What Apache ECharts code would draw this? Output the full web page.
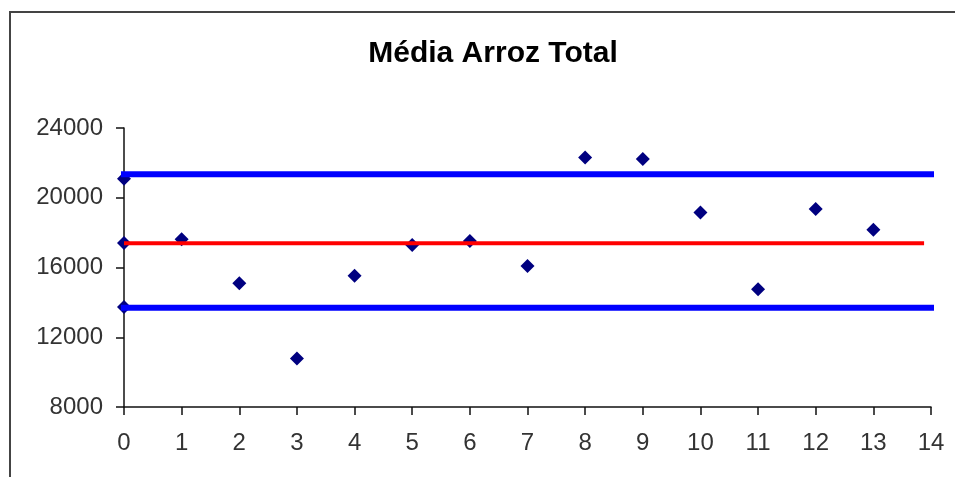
<!DOCTYPE html>
<html>
<head>
<meta charset="utf-8">
<script src="https://cdn.jsdelivr.net/npm/echarts@6/dist/echarts.min.js"></script>
<style>
html,body{margin:0;padding:0;background:#fff;}
#chart{width:955px;height:477px;}
</style>
</head>
<body>
<div id="chart"></div>
<script>
// Data
const titleText = 'Média Arroz Total';
const sampleX = [1, 2, 3, 4, 5, 6, 7, 8, 9, 10, 11, 12, 13];
const sampleY = [17620, 15090, 10780, 15530, 17290, 17520, 16090, 22310, 22220, 19150, 14750, 19360, 18160];
const startMarkersX = [0, 0, 0];
const startMarkersY = [21090, 17400, 13730];
const meanValue = 17390;
const upperLimit = 21350;
const lowerLimit = 13690;
const limitXRange = [0, 14];
const meanXRange = [0, 13.88];
const yTicks = [8000, 12000, 16000, 20000, 24000];
const xTicks = [0, 1, 2, 3, 4, 5, 6, 7, 8, 9, 10, 11, 12, 13, 14];

const points = sampleX.map((x, i) => [x, sampleY[i]]);
const startPoints = startMarkersX.map((x, i) => [x, startMarkersY[i]]);
const hline = (range, v) => range.map(x => [x, v]);

const chart = echarts.init(document.getElementById('chart'), null, {renderer: 'canvas'});
const font = 'Liberation Sans, Arial, sans-serif';
chart.setOption({
  backgroundColor: '#ffffff',
  animation: false,
  title: {
    text: titleText,
    left: 488, top: 34, textAlign: 'center',
    textStyle: {fontFamily: font, fontSize: 30, fontWeight: 'bold', color: '#000'}
  },
  graphic: [{
    type: 'rect', silent: true, z: -1,
    shape: {x: 10, y: 12, width: 1200, height: 1000},
    style: {fill: null, stroke: '#444', lineWidth: 2}
  }],
  grid: {left: 124, right: 24, top: 128, bottom: 70, containLabel: false},
  xAxis: {
    type: 'value', min: xTicks[0], max: xTicks[xTicks.length - 1], interval: 1,
    axisLine: {show: true, onZero: false, lineStyle: {color: '#111', width: 1.5}},
    axisTick: {show: true, length: 8, inside: false, lineStyle: {color: '#111', width: 1.5}},
    axisLabel: {fontFamily: font, fontSize: 24, color: '#333', margin: 24},
    splitLine: {show: false}
  },
  yAxis: {
    type: 'value', min: yTicks[0], max: yTicks[yTicks.length - 1], interval: 4000,
    axisLine: {show: true, lineStyle: {color: '#111', width: 1.5}},
    axisTick: {show: true, length: 8, inside: false, lineStyle: {color: '#111', width: 1.5}},
    axisLabel: {fontFamily: font, fontSize: 24, color: '#333', margin: 21, formatter: v => String(v)},
    splitLine: {show: false}
  },
  series: [
    {
      type: 'scatter', data: points, symbol: 'diamond', symbolSize: [14, 14],
      itemStyle: {color: '#000080', opacity: 1}, z: 2
    },
    {
      type: 'scatter', data: startPoints, symbol: 'diamond', symbolSize: [14, 14],
      itemStyle: {color: '#000080', opacity: 1}, z: 2, clip: false
    },
    {
      type: 'line', data: hline(limitXRange, upperLimit), showSymbol: false, clip: false,
      lineStyle: {color: '#0000ff', width: 6, cap: 'square'}, z: 3
    },
    {
      type: 'line', data: hline(limitXRange, lowerLimit), showSymbol: false, clip: false,
      lineStyle: {color: '#0000ff', width: 6, cap: 'square'}, z: 3
    },
    {
      type: 'line', data: hline(meanXRange, meanValue), showSymbol: false, clip: false,
      lineStyle: {color: '#ff0000', width: 4}, z: 3
    }
  ]
});
</script>
</body>
</html>
